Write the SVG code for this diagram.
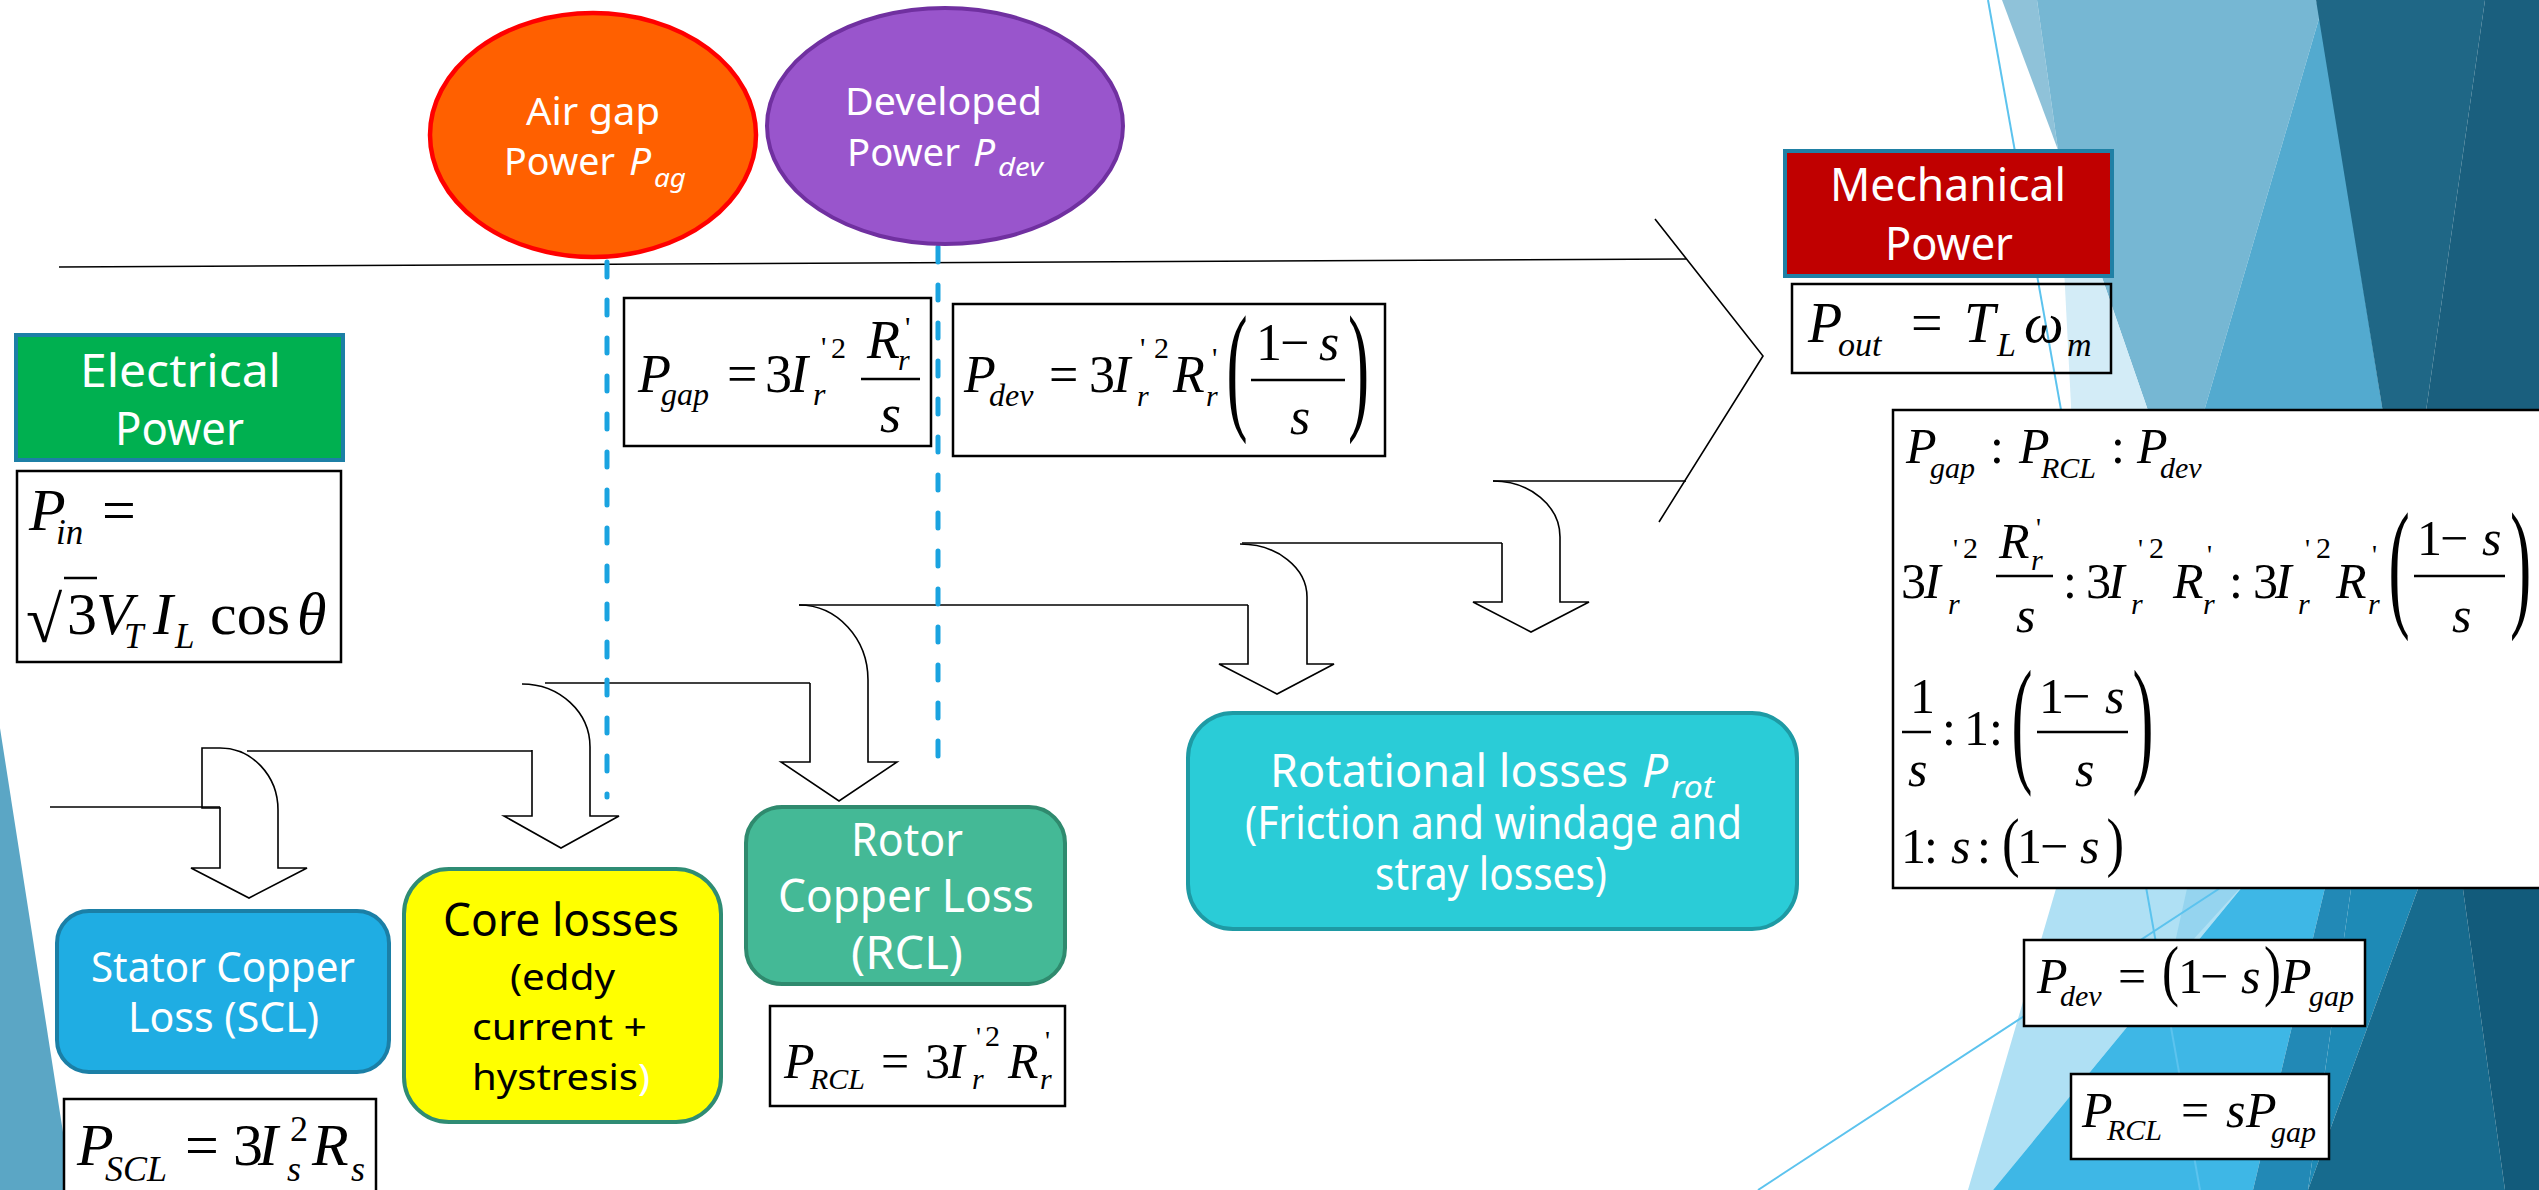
<svg xmlns="http://www.w3.org/2000/svg" width="2539" height="1190" viewBox="0 0 2539 1190">
<defs>
<style>
.lbl{font-family:"Noto Sans","Open Sans","DejaVu Sans",sans-serif;fill:#fff}
.blk{fill:#000}
.it{font-style:italic}
.m{font-family:"Liberation Serif","Times New Roman",serif;fill:#000}
.fb{fill:#fff;stroke:#000;stroke-width:2.5}
.fn{fill:none;stroke:#000;stroke-width:2.5}
.ln{fill:none;stroke:#000;stroke-width:1.6}
.dash{fill:none;stroke:#1AA3E0;stroke-width:5;stroke-dasharray:15 23;stroke-linecap:round}
.bar{stroke:#000;stroke-width:2.5}
.thin{stroke:#5CC3EE;stroke-width:2;fill:none}
</style>
</defs>
<rect width="2539" height="1190" fill="#fff"/>
<g id="background">
<polygon points="2002,0 2037,0 2058,150" fill="#8FC2D9"/>
<polygon points="2037,0 2316,0 2320,15 2200,425 2153,425 2058,150" fill="#76B7D3"/>
<polygon points="2058,150 2153,425 2072,425" fill="#D3ECF7"/>
<polygon points="2320,15 2385,425 2200,425" fill="#53AACF"/>
<polygon points="2316,0 2485,0 2424,425 2385,425" fill="#1F6786"/>
<polygon points="2485,0 2539,0 2539,425 2424,425" fill="#1A5F7E"/>
<polygon points="2060,875 2252,875 1993,1190 1968,1190" fill="#AFE0F4"/>
<polygon points="2190,875 2252,875 2170,965" fill="#95D4EF"/>
<polygon points="2252,875 2328,875 2253,1190 1993,1190" fill="#3EB7E6"/>
<polygon points="2328,875 2353,875 2308,1190 2253,1190" fill="#2289B6"/>
<polygon points="2353,875 2423,875 2308,1190" fill="#1E8AB6"/>
<polygon points="2423,875 2461,875 2505,1190 2308,1190" fill="#176B8E"/>
<polygon points="2461,875 2539,875 2539,1190 2505,1190" fill="#125B7B"/>
<polygon points="0,728 72,1190 0,1190" fill="#5BA6C5"/>
<line class="thin" x1="1988" y1="0" x2="2200" y2="1190"/>
<line class="thin" x1="1758" y1="1190" x2="2240" y2="875"/>
</g>
<g id="connectors">
<path class="ln" d="M59,267 L1686,259"/>
<path class="ln" d="M1655,219 L1763,356 L1659,522"/>
<path class="ln" d="M1493,481 L1686,481"/>
<path class="ln" d="M50,807 L220,807"/>
<path class="ln" d="M220,748 L202,748 L202,808 L220,808"/>
<path class="ln" d="M220,748 A58,62 0 0 1 278,810 L278,868 L307,868 L249,898 L191,868 L220,868 L220,807"/>
<path class="ln" d="M247,751 L532,751"/>
<path class="ln" d="M522,684 A68,63 0 0 1 590,747 L590,816 L619,816 L561,848 L504,816 L532,816 L532,750"/>
<path class="ln" d="M545,683 L810,683"/>
<path class="ln" d="M799,605 A69,75 0 0 1 868,680 L868,762 L897,762 L839,801 L781,762 L810,762 L810,683"/>
<path class="ln" d="M799,605 L1248,605"/>
<path class="ln" d="M1240,544 A67,53 0 0 1 1307,597 L1307,664 L1334,664 L1277,694 L1219,664 L1248,664 L1248,605"/>
<path class="ln" d="M1242,543 L1502,543"/>
<path class="ln" d="M1493,481 A67,56 0 0 1 1560,537 L1560,602 L1589,602 L1531,632 L1473,602 L1502,602 L1502,543"/>
<line class="dash" x1="607" y1="262" x2="607" y2="797"/>
<line class="dash" x1="938" y1="247" x2="938" y2="763"/>
</g>
<g id="air-gap">
<ellipse cx="593" cy="135" rx="163" ry="122" fill="#FF6000" stroke="#FF0000" stroke-width="4.5"/>
<text class="lbl" x="526" y="125" font-size="39" textLength="134" lengthAdjust="spacingAndGlyphs">Air gap</text>
<text class="lbl" x="504" y="175" font-size="39" textLength="111" lengthAdjust="spacingAndGlyphs">Power</text>
<text class="lbl it" x="629" y="175" font-size="39">P</text>
<text class="lbl it" x="654" y="187" font-size="26" textLength="32" lengthAdjust="spacingAndGlyphs">ag</text>
</g>
<g id="developed">
<ellipse cx="945" cy="126" rx="178" ry="118" fill="#9955CC" stroke="#7030A0" stroke-width="4"/>
<text class="lbl" x="845" y="115" font-size="39" textLength="197" lengthAdjust="spacingAndGlyphs">Developed</text>
<text class="lbl" x="847" y="166" font-size="39" textLength="113" lengthAdjust="spacingAndGlyphs">Power</text>
<text class="lbl it" x="973" y="166" font-size="39">P</text>
<text class="lbl it" x="998" y="176" font-size="26" textLength="45" lengthAdjust="spacingAndGlyphs">dev</text>
</g>
<g id="electrical">
<rect x="16" y="335" width="327" height="125" fill="#00B050" stroke="#1C7FA6" stroke-width="4"/>
<text class="lbl" x="80" y="387" font-size="46" textLength="201" lengthAdjust="spacingAndGlyphs">Electrical</text>
<text class="lbl" x="115" y="445" font-size="46" textLength="129" lengthAdjust="spacingAndGlyphs">Power</text>
</g>
<g id="pin">
<rect class="fb" x="17" y="471" width="324" height="191"/>
<text class="m it" x="29" y="530" font-size="60">P</text>
<text class="m it" x="56" y="544" font-size="35">in</text>
<text class="m" x="102" y="530" font-size="60">=</text>
<text class="m" x="26" y="642" font-size="66">√</text>
<line class="bar" x1="64" y1="578" x2="97" y2="578"/>
<text class="m" x="67" y="634" font-size="60">3</text>
<text class="m it" x="96" y="634" font-size="60">V</text>
<text class="m it" x="124" y="648" font-size="35">T</text>
<text class="m it" x="153" y="634" font-size="60">I</text>
<text class="m it" x="175" y="648" font-size="35">L</text>
<text class="m" x="210" y="634" font-size="60">cos</text>
<text class="m it" x="297" y="634" font-size="60">θ</text>
</g>
<g id="pgap">
<rect class="fb" x="624" y="298" width="307" height="148"/>
<text class="m it" x="638" y="392" font-size="54">P</text>
<text class="m it" x="661" y="405" font-size="32">gap</text>
<text class="m" x="727" y="392" font-size="54">=</text>
<text class="m" x="765" y="392" font-size="54">3</text>
<text class="m it" x="790" y="392" font-size="54">I</text>
<text class="m" x="821" y="357" font-size="30">'</text>
<text class="m" x="831" y="358" font-size="30">2</text>
<text class="m it" x="813" y="405" font-size="32">r</text>
<text class="m it" x="867" y="358" font-size="54">R</text>
<text class="m" x="905" y="337" font-size="30">'</text>
<text class="m it" x="898" y="370" font-size="30">r</text>
<line class="bar" x1="861" y1="379" x2="920" y2="379"/>
<text class="m it" x="880" y="432" font-size="54">s</text>
</g>
<g id="pdev">
<rect class="fb" x="953" y="304" width="432" height="152"/>
<text class="m it" x="964" y="392" font-size="52">P</text>
<text class="m it" x="989" y="406" font-size="32">dev</text>
<text class="m" x="1049" y="392" font-size="52">=</text>
<text class="m" x="1089" y="392" font-size="52">3</text>
<text class="m it" x="1113" y="392" font-size="52">I</text>
<text class="m" x="1140" y="358" font-size="30">'</text>
<text class="m" x="1154" y="358" font-size="30">2</text>
<text class="m it" x="1137" y="406" font-size="30">r</text>
<text class="m it" x="1173" y="392" font-size="52">R</text>
<text class="m" x="1212" y="368" font-size="30">'</text>
<text class="m it" x="1206" y="406" font-size="30">r</text>
<text class="m" transform="translate(1226.5,414) scale(0.45,1)" font-size="141">(</text>
<text class="m" x="1256" y="360" font-size="52">1</text>
<text class="m" x="1280" y="360" font-size="52">−</text>
<text class="m it" x="1319" y="360" font-size="52">s</text>
<line class="bar" x1="1251" y1="380" x2="1345" y2="380"/>
<text class="m it" x="1290" y="434" font-size="52">s</text>
<text class="m" transform="translate(1348,414) scale(0.45,1)" font-size="141">)</text>
</g>
<g id="mechanical">
<rect x="1785" y="151" width="327" height="125" fill="#C00000" stroke="#1F80A5" stroke-width="4"/>
<text class="lbl" x="1830" y="201" font-size="46" textLength="236" lengthAdjust="spacingAndGlyphs">Mechanical</text>
<text class="lbl" x="1885" y="260" font-size="46" textLength="128" lengthAdjust="spacingAndGlyphs">Power</text>
</g>
<g id="pout">
<rect class="fn" x="1792" y="284" width="319" height="89"/>
<text class="m it" x="1808" y="342" font-size="56">P</text>
<text class="m it" x="1838" y="356" font-size="34">out</text>
<text class="m" x="1911" y="342" font-size="56">=</text>
<text class="m it" x="1964" y="342" font-size="56">T</text>
<text class="m it" x="1997" y="356" font-size="34">L</text>
<text class="m it" x="2024" y="342" font-size="56">ω</text>
<text class="m it" x="2067" y="356" font-size="34">m</text>
</g>
<g id="ratios">
<rect class="fb" x="1893" y="410" width="660" height="478"/>
<text class="m it" x="1906" y="463" font-size="50">P</text>
<text class="m it" x="1930" y="478" font-size="30">gap</text>
<text class="m" x="1990" y="463" font-size="50">:</text>
<text class="m it" x="2019" y="463" font-size="50">P</text>
<text class="m it" x="2041" y="478" font-size="30">RCL</text>
<text class="m" x="2111" y="463" font-size="50">:</text>
<text class="m it" x="2137" y="463" font-size="50">P</text>
<text class="m it" x="2160" y="478" font-size="30">dev</text>
<text class="m" x="1901" y="598" font-size="50">3</text>
<text class="m it" x="1924" y="598" font-size="50">I</text>
<text class="m" x="1953" y="558" font-size="28">'</text>
<text class="m" x="1963" y="558" font-size="30">2</text>
<text class="m it" x="1948" y="614" font-size="30">r</text>
<text class="m it" x="1999" y="558" font-size="50">R</text>
<text class="m" x="2036" y="537" font-size="28">'</text>
<text class="m it" x="2031" y="570" font-size="30">r</text>
<line class="bar" x1="1996" y1="576" x2="2053" y2="576"/>
<text class="m it" x="2016" y="632" font-size="50">s</text>
<text class="m" x="2063" y="598" font-size="50">:</text>
<text class="m" x="2086" y="598" font-size="50">3</text>
<text class="m it" x="2108" y="598" font-size="50">I</text>
<text class="m" x="2138" y="558" font-size="28">'</text>
<text class="m" x="2149" y="558" font-size="30">2</text>
<text class="m it" x="2131" y="614" font-size="30">r</text>
<text class="m it" x="2173" y="598" font-size="50">R</text>
<text class="m" x="2207" y="564" font-size="28">'</text>
<text class="m it" x="2203" y="614" font-size="30">r</text>
<text class="m" x="2229" y="598" font-size="50">:</text>
<text class="m" x="2253" y="598" font-size="50">3</text>
<text class="m it" x="2275" y="598" font-size="50">I</text>
<text class="m" x="2305" y="558" font-size="28">'</text>
<text class="m" x="2316" y="558" font-size="30">2</text>
<text class="m it" x="2298" y="614" font-size="30">r</text>
<text class="m it" x="2336" y="598" font-size="50">R</text>
<text class="m" x="2372" y="564" font-size="28">'</text>
<text class="m it" x="2368" y="614" font-size="30">r</text>
<text class="m" transform="translate(2388.4,611) scale(0.45,1)" font-size="142">(</text>
<text class="m" x="2417" y="555" font-size="50">1</text>
<text class="m" x="2440" y="555" font-size="50">−</text>
<text class="m it" x="2482" y="555" font-size="50">s</text>
<line class="bar" x1="2414" y1="576" x2="2505" y2="576"/>
<text class="m it" x="2452" y="632" font-size="50">s</text>
<text class="m" transform="translate(2510,611) scale(0.45,1)" font-size="142">)</text>
<text class="m" x="1910" y="713" font-size="50">1</text>
<line class="bar" x1="1902" y1="732" x2="1931" y2="732"/>
<text class="m it" x="1908" y="786" font-size="50">s</text>
<text class="m" x="1942" y="745" font-size="50">:</text>
<text class="m" x="1964" y="745" font-size="50">1</text>
<text class="m" x="1989" y="745" font-size="50">:</text>
<text class="m" transform="translate(2011.5,767) scale(0.45,1)" font-size="140">(</text>
<text class="m" x="2039" y="713" font-size="50">1</text>
<text class="m" x="2062" y="713" font-size="50">−</text>
<text class="m it" x="2105" y="713" font-size="50">s</text>
<line class="bar" x1="2037" y1="732" x2="2128" y2="732"/>
<text class="m it" x="2075" y="786" font-size="50">s</text>
<text class="m" transform="translate(2132.6,767) scale(0.45,1)" font-size="140">)</text>
<text class="m" x="1901" y="863" font-size="50">1</text>
<text class="m" x="1924" y="863" font-size="50">:</text>
<text class="m it" x="1951" y="863" font-size="50">s</text>
<text class="m" x="1977" y="863" font-size="50">:</text>
<text class="m" transform="translate(2002,864) scale(0.8,1)" font-size="66">(</text>
<text class="m" x="2017" y="863" font-size="50">1</text>
<text class="m" x="2040" y="863" font-size="50">−</text>
<text class="m it" x="2080" y="863" font-size="50">s</text>
<text class="m" transform="translate(2106.4,864) scale(0.8,1)" font-size="66">)</text>
</g>
<g id="pdev-pgap">
<rect class="fb" x="2024" y="940" width="341" height="86"/>
<text class="m it" x="2037" y="993" font-size="50">P</text>
<text class="m it" x="2060" y="1006" font-size="30">dev</text>
<text class="m" x="2118" y="993" font-size="50">=</text>
<text class="m" transform="translate(2162,993) scale(0.75,1)" font-size="68">(</text>
<text class="m" x="2178" y="993" font-size="50">1</text>
<text class="m" x="2200" y="993" font-size="50">−</text>
<text class="m it" x="2241" y="993" font-size="50">s</text>
<text class="m" transform="translate(2264,993) scale(0.75,1)" font-size="68">)</text>
<text class="m it" x="2281" y="993" font-size="50">P</text>
<text class="m it" x="2309" y="1006" font-size="30">gap</text>
</g>
<g id="prcl-spgap">
<rect class="fb" x="2071" y="1074" width="258" height="85"/>
<text class="m it" x="2082" y="1127" font-size="50">P</text>
<text class="m it" x="2107" y="1140" font-size="30">RCL</text>
<text class="m" x="2181" y="1127" font-size="50">=</text>
<text class="m it" x="2226" y="1127" font-size="50">s</text>
<text class="m it" x="2246" y="1127" font-size="50">P</text>
<text class="m it" x="2271" y="1142" font-size="30">gap</text>
</g>
<g id="stator-loss">
<rect x="57" y="911" width="332" height="161" rx="32" fill="#1FADE3" stroke="#1B7FA6" stroke-width="4"/>
<text class="lbl" x="91" y="982" font-size="42" textLength="264" lengthAdjust="spacingAndGlyphs">Stator Copper</text>
<text class="lbl" x="128" y="1032" font-size="42" textLength="191" lengthAdjust="spacingAndGlyphs">Loss (SCL)</text>
</g>
<g id="pscl">
<rect class="fb" x="64" y="1099" width="312" height="110"/>
<text class="m it" x="77" y="1165" font-size="60">P</text>
<text class="m it" x="105" y="1181" font-size="36">SCL</text>
<text class="m" x="185" y="1165" font-size="60">=</text>
<text class="m" x="233" y="1165" font-size="60">3</text>
<text class="m it" x="258" y="1165" font-size="60">I</text>
<text class="m" x="290" y="1141" font-size="36">2</text>
<text class="m it" x="287" y="1181" font-size="36">s</text>
<text class="m it" x="312" y="1165" font-size="60">R</text>
<text class="m it" x="351" y="1181" font-size="36">s</text>
</g>
<g id="core-losses">
<rect x="404" y="869" width="317" height="253" rx="45" fill="#FFFF00" stroke="#2F8C74" stroke-width="4"/>
<text class="lbl blk" x="443" y="936" font-size="46" textLength="236" lengthAdjust="spacingAndGlyphs">Core losses</text>
<text class="lbl blk" x="510" y="990" font-size="37" textLength="105" lengthAdjust="spacingAndGlyphs">(eddy</text>
<text class="lbl blk" x="472" y="1040" font-size="37" textLength="175" lengthAdjust="spacingAndGlyphs">current +</text>
<text class="lbl blk" x="472" y="1090" font-size="37" textLength="178" lengthAdjust="spacingAndGlyphs">hystresis<tspan fill="#FFFFFF">)</tspan></text>
</g>
<g id="rotor-loss">
<rect x="746" y="807" width="319" height="177" rx="36" fill="#44B996" stroke="#2F8A6E" stroke-width="4"/>
<text class="lbl" x="851" y="856" font-size="46" textLength="112" lengthAdjust="spacingAndGlyphs">Rotor</text>
<text class="lbl" x="778" y="912" font-size="46" textLength="256" lengthAdjust="spacingAndGlyphs">Copper Loss</text>
<text class="lbl" x="851" y="969" font-size="46" textLength="112" lengthAdjust="spacingAndGlyphs">(RCL)</text>
</g>
<g id="prcl">
<rect class="fb" x="770" y="1006" width="295" height="100"/>
<text class="m it" x="784" y="1078" font-size="50">P</text>
<text class="m it" x="810" y="1089" font-size="30">RCL</text>
<text class="m" x="881" y="1078" font-size="50">=</text>
<text class="m" x="925" y="1078" font-size="50">3</text>
<text class="m it" x="948" y="1078" font-size="50">I</text>
<text class="m" x="976" y="1046" font-size="28">'</text>
<text class="m" x="985" y="1046" font-size="30">2</text>
<text class="m it" x="972" y="1089" font-size="30">r</text>
<text class="m it" x="1008" y="1078" font-size="50">R</text>
<text class="m" x="1045" y="1050" font-size="28">'</text>
<text class="m it" x="1040" y="1089" font-size="30">r</text>
</g>
<g id="rotational">
<rect x="1188" y="713" width="609" height="216" rx="45" fill="#2ACCD7" stroke="#1E9AA4" stroke-width="4"/>
<text class="lbl" x="1270" y="787" font-size="46" textLength="358" lengthAdjust="spacingAndGlyphs">Rotational losses</text>
<text class="lbl it" x="1642" y="787" font-size="46">P</text>
<text class="lbl it" x="1671" y="798" font-size="30" textLength="43" lengthAdjust="spacingAndGlyphs">rot</text>
<text class="lbl" x="1245" y="839" font-size="46" textLength="497" lengthAdjust="spacingAndGlyphs">(Friction and windage and</text>
<text class="lbl" x="1375" y="890" font-size="46" textLength="232" lengthAdjust="spacingAndGlyphs">stray losses)</text>
</g>
</svg>
